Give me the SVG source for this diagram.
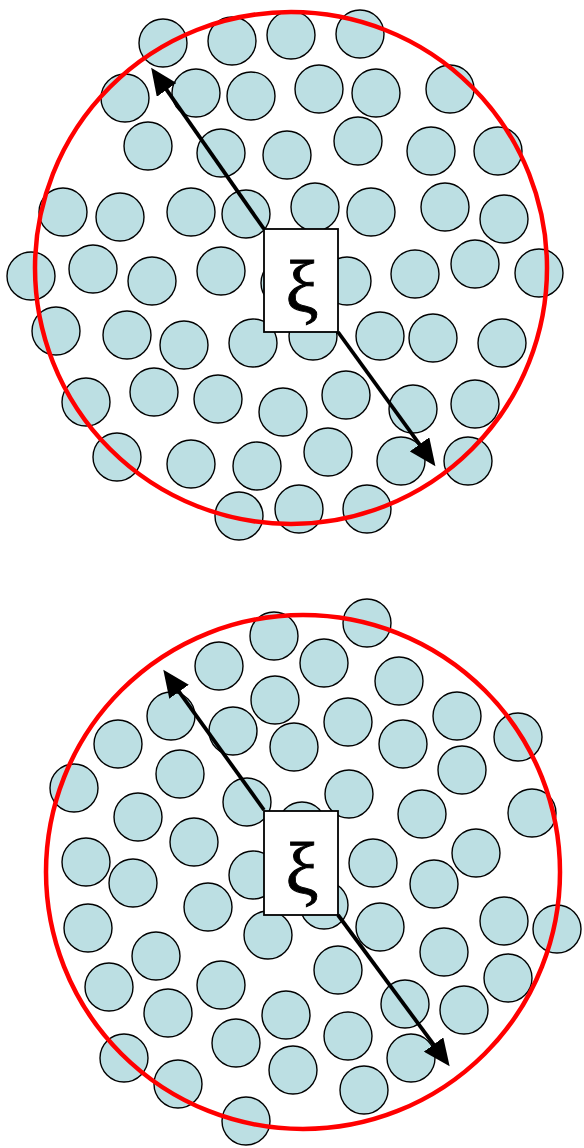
<svg xmlns="http://www.w3.org/2000/svg" width="584" height="1148" viewBox="0 0 584 1148">
<style>
.p{fill:#bcdfe3;stroke:#000;stroke-width:1.4}
.ring{fill:none;stroke:#ff0000;stroke-width:4.5}
.box{fill:#fff;stroke:#000;stroke-width:1.8}
.arr{stroke:#000;stroke-width:3.8;fill:none;marker-end:url(#ah)}
.xi{font-family:"Liberation Serif","DejaVu Serif",serif;font-size:74px;text-anchor:middle;fill:#000;stroke:#000;stroke-width:0.9}
</style>
<defs>
<marker id="ah" markerUnits="userSpaceOnUse" markerWidth="28" markerHeight="24" refX="21" refY="12" orient="auto">
<path d="M0,0 L27,12 L0,24 Z" fill="#000"/>
</marker>
</defs>
<rect width="584" height="1148" fill="#fff"/>
<g id="top-particles">
<circle class="p" cx="163" cy="43" r="24"/><circle class="p" cx="232" cy="41" r="24"/><circle class="p" cx="291" cy="35" r="24"/><circle class="p" cx="360" cy="34" r="24"/>
<circle class="p" cx="125" cy="98" r="24"/><circle class="p" cx="196" cy="93" r="24"/><circle class="p" cx="251" cy="96" r="24"/><circle class="p" cx="319" cy="89" r="24"/><circle class="p" cx="376" cy="93" r="24"/><circle class="p" cx="450" cy="89" r="24"/>
<circle class="p" cx="148" cy="146" r="24"/><circle class="p" cx="221" cy="153" r="24"/><circle class="p" cx="287" cy="155" r="24"/><circle class="p" cx="358" cy="141" r="24"/><circle class="p" cx="431" cy="151" r="24"/><circle class="p" cx="498" cy="151" r="24"/>
<circle class="p" cx="63" cy="212" r="24"/><circle class="p" cx="120" cy="217" r="24"/><circle class="p" cx="191" cy="212" r="24"/><circle class="p" cx="246" cy="214" r="24"/><circle class="p" cx="315" cy="207" r="24"/><circle class="p" cx="371" cy="212" r="24"/><circle class="p" cx="445" cy="207" r="24"/><circle class="p" cx="504" cy="219" r="24"/>
<circle class="p" cx="31" cy="276" r="24"/><circle class="p" cx="93" cy="269" r="24"/><circle class="p" cx="152" cy="281" r="24"/><circle class="p" cx="221" cy="271" r="24"/><circle class="p" cx="285" cy="283" r="24"/><circle class="p" cx="347" cy="281" r="24"/><circle class="p" cx="415" cy="274" r="24"/><circle class="p" cx="475" cy="264" r="24"/><circle class="p" cx="539" cy="273" r="24"/>
<circle class="p" cx="56" cy="331" r="24"/><circle class="p" cx="127" cy="335" r="24"/><circle class="p" cx="184" cy="345" r="24"/><circle class="p" cx="253" cy="343" r="24"/><circle class="p" cx="313" cy="336" r="24"/><circle class="p" cx="380" cy="336" r="24"/><circle class="p" cx="433" cy="338" r="24"/><circle class="p" cx="502" cy="343" r="24"/>
<circle class="p" cx="86" cy="402" r="24"/><circle class="p" cx="154" cy="392" r="24"/><circle class="p" cx="218" cy="399" r="24"/><circle class="p" cx="283" cy="412" r="24"/><circle class="p" cx="346" cy="395" r="24"/><circle class="p" cx="413" cy="409" r="24"/><circle class="p" cx="475" cy="404" r="24"/>
<circle class="p" cx="117" cy="457" r="24"/><circle class="p" cx="191" cy="464" r="24"/><circle class="p" cx="257" cy="466" r="24"/><circle class="p" cx="328" cy="452" r="24"/><circle class="p" cx="401" cy="461" r="24"/><circle class="p" cx="468" cy="461" r="24"/>
<circle class="p" cx="239" cy="516" r="24"/><circle class="p" cx="299" cy="509" r="24"/><circle class="p" cx="367" cy="509" r="24"/>
</g>
<g id="top-boundary"><circle class="ring" cx="291" cy="268" r="256"/></g>
<g id="top-label">
<rect class="box" x="264" y="229" width="74" height="103"/>
<text class="xi" x="302" y="312">ξ</text>
</g>
<g id="bottom-particles">
<circle class="p" cx="274" cy="636" r="24"/><circle class="p" cx="219" cy="666" r="24"/><circle class="p" cx="275" cy="700" r="24"/><circle class="p" cx="233" cy="731" r="24"/><circle class="p" cx="171" cy="716" r="24"/><circle class="p" cx="118" cy="744" r="24"/><circle class="p" cx="74" cy="788" r="24"/><circle class="p" cx="180" cy="774" r="24"/><circle class="p" cx="247" cy="802" r="24"/><circle class="p" cx="138" cy="817" r="24"/><circle class="p" cx="194" cy="842" r="24"/><circle class="p" cx="86" cy="862" r="24"/><circle class="p" cx="133" cy="883" r="24"/><circle class="p" cx="253" cy="875" r="24"/><circle class="p" cx="294" cy="747" r="24"/>
<circle class="p" cx="367" cy="623" r="24"/><circle class="p" cx="324" cy="663" r="24"/><circle class="p" cx="399" cy="681" r="24"/><circle class="p" cx="348" cy="722" r="24"/><circle class="p" cx="403" cy="744" r="24"/><circle class="p" cx="457" cy="716" r="24"/><circle class="p" cx="518" cy="737" r="24"/><circle class="p" cx="462" cy="770" r="24"/><circle class="p" cx="349" cy="794" r="24"/><circle class="p" cx="422" cy="814" r="24"/><circle class="p" cx="532" cy="813" r="24"/><circle class="p" cx="302" cy="826" r="24"/><circle class="p" cx="373" cy="863" r="24"/><circle class="p" cx="476" cy="853" r="24"/><circle class="p" cx="434" cy="884" r="24"/>
<circle class="p" cx="208" cy="907" r="24"/><circle class="p" cx="268" cy="935" r="24"/><circle class="p" cx="88" cy="928" r="24"/><circle class="p" cx="156" cy="956" r="24"/><circle class="p" cx="221" cy="985" r="24"/><circle class="p" cx="109" cy="987" r="24"/><circle class="p" cx="168" cy="1013" r="24"/><circle class="p" cx="286" cy="1015" r="24"/><circle class="p" cx="236" cy="1043" r="24"/><circle class="p" cx="124" cy="1058" r="24"/><circle class="p" cx="178" cy="1084" r="24"/><circle class="p" cx="246" cy="1121" r="24"/><circle class="p" cx="293" cy="1070" r="24"/>
<circle class="p" cx="324" cy="905" r="24"/><circle class="p" cx="380" cy="927" r="24"/><circle class="p" cx="444" cy="952" r="24"/><circle class="p" cx="504" cy="921" r="24"/><circle class="p" cx="557" cy="929" r="24"/><circle class="p" cx="338" cy="970" r="24"/><circle class="p" cx="508" cy="978" r="24"/><circle class="p" cx="405" cy="1004" r="24"/><circle class="p" cx="464" cy="1010" r="24"/><circle class="p" cx="348" cy="1036" r="24"/><circle class="p" cx="411" cy="1058" r="24"/><circle class="p" cx="364" cy="1090" r="24"/>
</g>
<g id="bottom-boundary"><circle class="ring" cx="303" cy="872" r="257"/></g>
<g id="bottom-label">
<rect class="box" x="264" y="811" width="74" height="104"/>
<text class="xi" x="302" y="894">ξ</text>
</g>
<g id="connectors">
<line class="arr" x1="264" y1="229" x2="154.6" y2="72.7"/>
<line class="arr" x1="338" y1="332" x2="431.9" y2="461.3"/>
<line class="arr" x1="264" y1="810" x2="166.8" y2="674.7"/>
<line class="arr" x1="338" y1="915" x2="446.1" y2="1061.4"/>
</g>
</svg>
